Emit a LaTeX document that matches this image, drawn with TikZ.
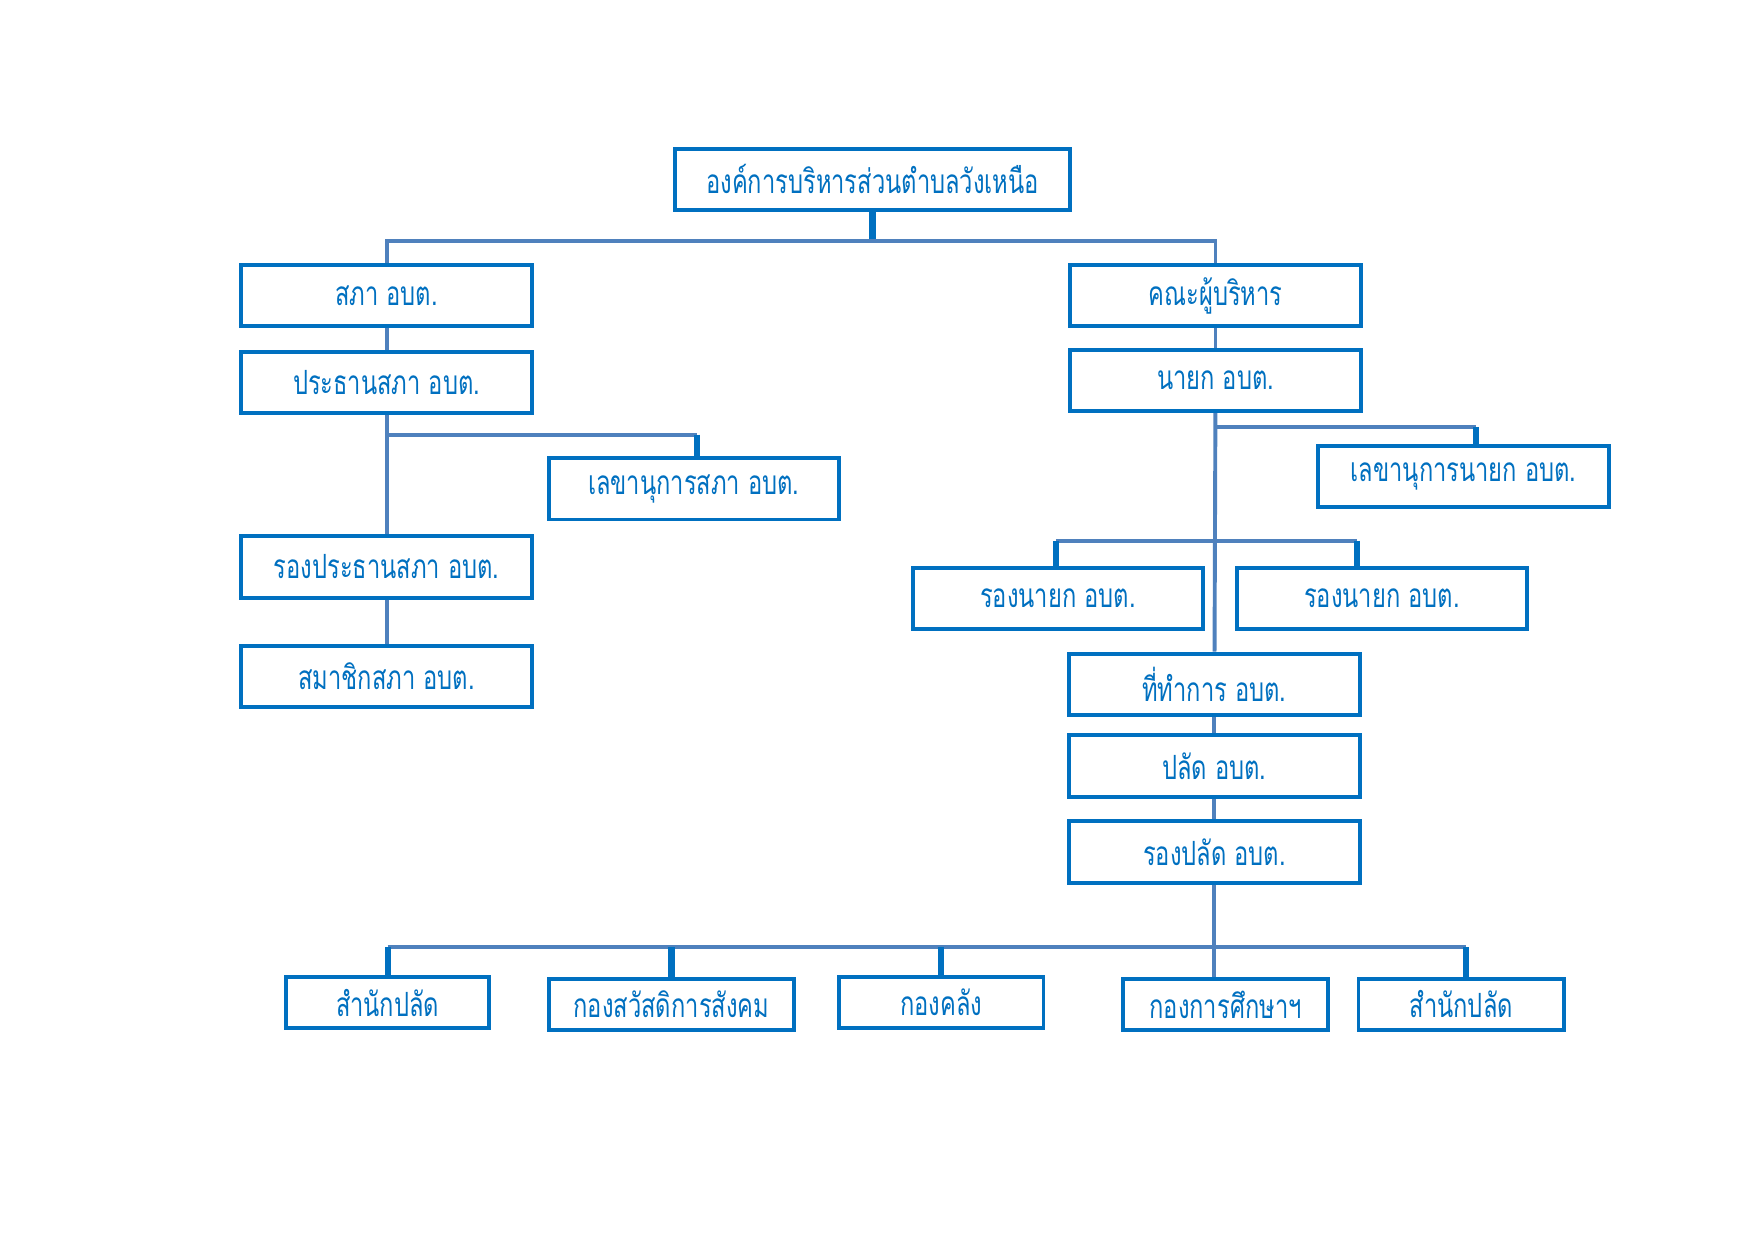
\documentclass[tikz,border=0pt]{standalone}
\usepackage{fontspec}
\newfontfamily\thaifont[Script=Thai, FakeStretch=0.71]{Loma}
\definecolor{boxblue}{HTML}{0070C0}
\definecolor{linkblue}{HTML}{4F81BD}
\tikzset{
  box/.style={draw=boxblue, line width=0.35mm, text=boxblue, fill=white,
    minimum width=26mm, minimum height=5.5mm, inner sep=0pt,
    font=\thaifont\fontsize{8.5}{10}\selectfont},
  smallbox/.style={box, minimum height=4.6mm},
  link/.style={draw=linkblue, line width=0.35mm},
  stub/.style={draw=boxblue, line width=0.55mm}
}
\begin{document}
\begin{tikzpicture}[x=0.1mm, y=-0.1mm]
  \useasboundingbox (0,0) rectangle (1570,1110);

  \node[box, minimum width=35.4mm] (top) at (781,160.5) {องค์การบริหารส่วนตำบลวังเหนือ};

  % left side
  \node[box] (sapha) at (346,264.5) {สภา อบต.};
  \node[box] (prathan) at (346,342.5) {ประธานสภา อบต.};
  \node[box] (lekhasapha) at (621,437.5) {เลขานุการสภา อบต.};
  \node[box] (rongprathan) at (346,507.5) {รองประธานสภา อบต.};
  \node[box] (samachik) at (346,605.5) {สมาชิกสภา อบต.};

  % right side
  \node[box] (khana) at (1088,264.5) {คณะผู้บริหาร};
  \node[box] (nayok) at (1088,340.5) {นายก อบต.};
  \node[box] (lekhanayok) at (1310,426.5) {เลขานุการนายก อบต.};
  \node[box] (rongnayoka) at (947,535.5) {รองนายก อบต.};
  \node[box] (rongnayokb) at (1237,535.5) {รองนายก อบต.};
  \node[box] (thitham) at (1087,612.5) {ที่ทำการ อบต.};
  \node[box] (palat) at (1087,685.5) {ปลัด อบต.};
  \node[box] (rongpalat) at (1087,762.5) {รองปลัด อบต.};

  % divisions
  \node[smallbox, minimum width=18.2mm] (samnaka) at (347,897.5) {สำนักปลัด};
  \node[smallbox, minimum width=22mm] (sawatdikan) at (601,899) {กองสวัสดิการสังคม};
  \node[smallbox, minimum width=18.3mm] (khlang) at (842.5,897.5) {กองคลัง};
  \node[smallbox, minimum width=18.4mm] (sueksa) at (1097,899) {กองการศึกษาฯ};
  \node[smallbox, minimum width=18.4mm] (samnakb) at (1308,899) {สำนักปลัด};

  \coordinate (topfork) at (781,216);
  \coordinate (sfork) at (346,389);
  \coordinate (sforkend) at (624,389);
  \coordinate (nfork) at (1088,382);
  \coordinate (nforkend) at (1321,382);
  \coordinate (rforka) at (945,484);
  \coordinate (rforkb) at (1215,484);
  \coordinate (pfork) at (1087,848);
  \coordinate (pforkend) at (1312,848);

  % connectors
  \draw[stub] (top.south) -- (topfork);
  \draw[link] (sapha.north) |- (topfork) -| (khana.north);
  \draw[link] (sapha) -- (prathan);
  \draw[link] (prathan) -- (rongprathan);
  \draw[link] (rongprathan) -- (samachik);
  \draw[link] (sfork) -- (sforkend);
  \draw[stub] (sforkend) -- (sforkend |- lekhasapha.north);

  \draw[link] (khana) -- (nayok);
  \draw[link] (nayok) -- (thitham);
  \draw[link] (nfork) -- (nforkend);
  \draw[stub] (nforkend) -- (nforkend |- lekhanayok.north);
  \draw[link] (rforka) -- (rforkb);
  \draw[stub] (rforka) -- (rforka |- rongnayoka.north);
  \draw[stub] (rforkb) -- (rforkb |- rongnayokb.north);
  \draw[link] (thitham) -- (palat);
  \draw[link] (palat) -- (rongpalat);

  \draw[link] (rongpalat.south) -- (pfork);
  \draw[link] (pfork -| samnaka) -- (pforkend);
  \foreach \d in {samnaka, sawatdikan, khlang}
    \draw[stub] (pfork -| \d) -- (\d.north);
  \draw[stub] (pforkend) -- (pforkend |- samnakb.north);
  \draw[link] (pfork) -- (pfork |- sueksa.north);
\end{tikzpicture}
\end{document}
